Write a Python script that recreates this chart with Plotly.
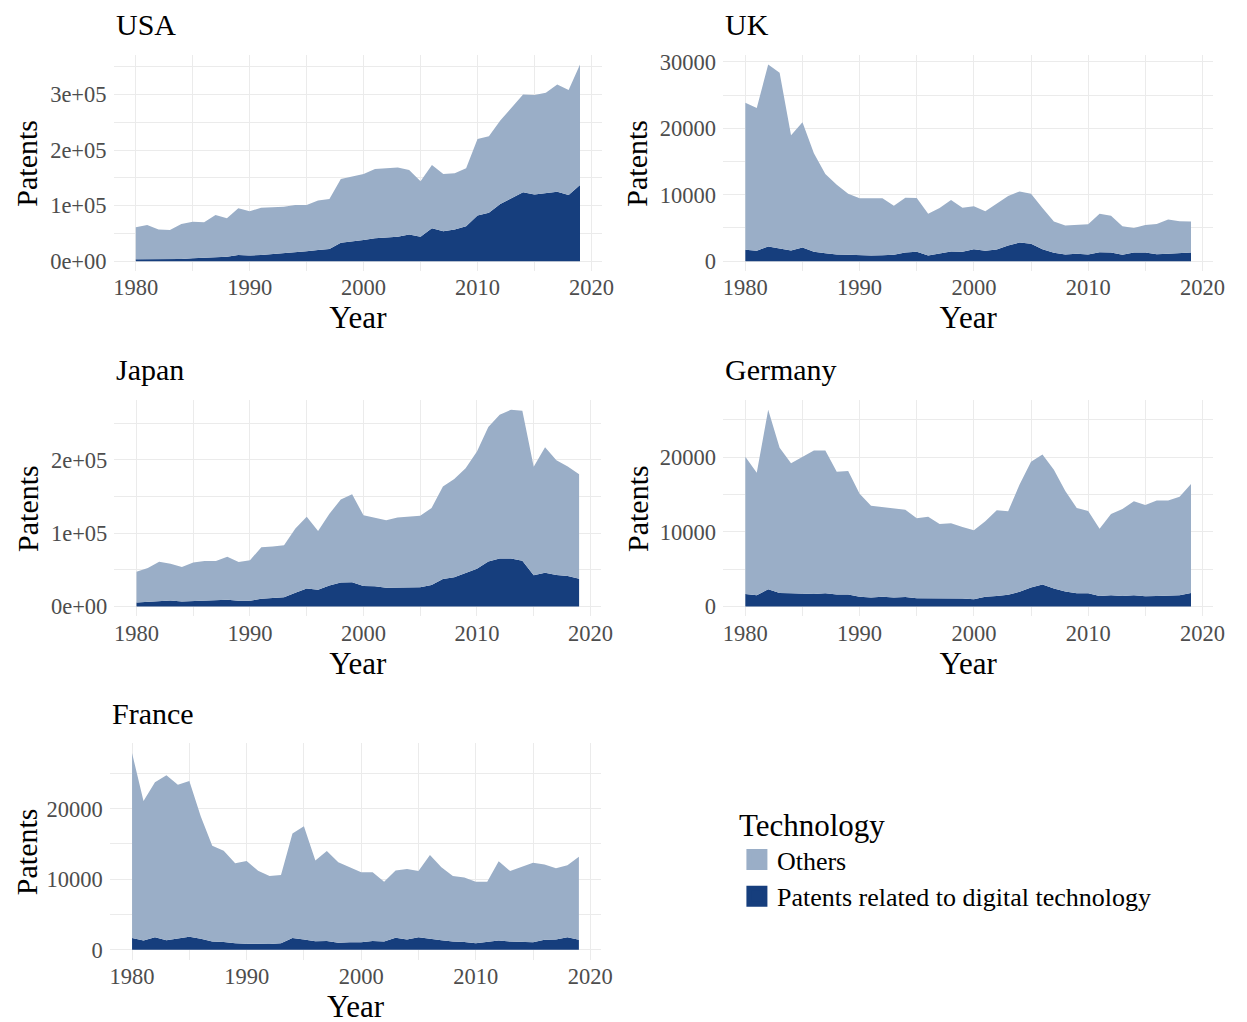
import plotly.graph_objects as go

YEARS = list(range(1980, 2020))

COUNTRIES = ["USA", "UK", "Japan", "Germany", "France"]

USA_DIGITAL = [3600, 3600, 3600, 3600, 4000, 5000, 6000, 8000, 8000, 11000,
               10000, 11000, 12500, 14000, 16500, 18000, 20000, 22000, 33000, 35000,
               38000, 41000, 42000, 44000, 48000, 44000, 59000, 54000, 57000, 63000,
               82000, 87000, 103000, 114000, 124000, 120000, 122000, 125000, 119000, 137000]
USA_OTHERS = [57400, 61400, 53400, 52400, 63000, 66000, 64000, 75000, 69000, 84000,
              80000, 85000, 84500, 84000, 84500, 83000, 89000, 90000, 115000, 118000,
              119000, 125000, 125000, 124500, 116000, 100000, 114000, 103000, 101000, 104000,
              138000, 138000, 150000, 163000, 176000, 179000, 181000, 193000, 189000, 217000]

UK_DIGITAL = [1700, 1550, 2200, 1900, 1600, 2050, 1400, 1200, 1000, 950,
              850, 850, 900, 950, 1300, 1400, 850, 1150, 1450, 1400,
              1800, 1550, 1750, 2350, 2800, 2600, 1800, 1250, 1000, 1100,
              1000, 1350, 1300, 950, 1300, 1300, 1050, 1100, 1150, 1300]
UK_OTHERS = [22150, 21500, 27400, 26450, 17350, 18850, 14850, 11900, 10500, 9200,
             8600, 8600, 8550, 7400, 8250, 8100, 6300, 6850, 7750, 6650,
             6450, 5950, 6950, 7450, 7700, 7550, 6200, 4700, 4350, 4300,
             4550, 5800, 5550, 4300, 3700, 4150, 4550, 5150, 4850, 4650]

JAPAN_DIGITAL = [5400, 6300, 7700, 8100, 6800, 7200, 7700, 7700, 9000, 7700,
                 7700, 10400, 11700, 12600, 18500, 24400, 22600, 28400, 32500, 33000,
                 28000, 27500, 25300, 25700, 26200, 26200, 29300, 37500, 39700, 45100,
                 51500, 61400, 65500, 65500, 62300, 42400, 46000, 42900, 41500, 37900]
JAPAN_OTHERS = [42000, 46100, 53300, 50100, 46900, 52800, 54200, 54200, 58700, 52800,
                55100, 70400, 70000, 70900, 87600, 97900, 80300, 98000, 113300, 120000,
                96200, 93500, 92100, 95700, 96600, 97500, 104800, 125900, 134100, 143200,
                159800, 183300, 195900, 202700, 204500, 148100, 171200, 156600, 149500, 142200]

GERMANY_DIGITAL = [1650, 1500, 2300, 1800, 1750, 1700, 1650, 1750, 1600, 1600,
                   1300, 1200, 1300, 1200, 1250, 1100, 1100, 1000, 1000, 1050,
                   950, 1300, 1400, 1550, 1950, 2550, 2950, 2400, 2000, 1750,
                   1750, 1400, 1500, 1400, 1500, 1350, 1400, 1400, 1500, 1800]
GERMANY_OTHERS = [18400, 16400, 24050, 19450, 17450, 18350, 19250, 19150, 16450, 16550,
                  13800, 12300, 12050, 11900, 11700, 10700, 10900, 10050, 10150, 9600,
                  9250, 10100, 11500, 11200, 14400, 16850, 17400, 15900, 13450, 11450,
                  11050, 9000, 10900, 11650, 12600, 12250, 12800, 12800, 13200, 14600]

FRANCE_DIGITAL = [1650, 1300, 1750, 1350, 1600, 1850, 1550, 1150, 1100, 900,
                  850, 800, 800, 900, 1650, 1450, 1200, 1250, 1000, 1050,
                  1050, 1250, 1150, 1700, 1450, 1750, 1600, 1350, 1150, 1100,
                  900, 1100, 1300, 1150, 1100, 1050, 1400, 1450, 1750, 1400]
FRANCE_OTHERS = [26250, 19800, 22000, 23400, 21800, 22100, 17350, 13600, 12950, 11350,
                 11750, 10400, 9650, 9700, 14850, 16050, 11450, 12750, 11400, 10700,
                 9950, 9750, 8500, 9550, 10000, 9400, 11850, 10350, 9300, 9150,
                 8750, 8550, 11250, 10000, 10600, 11300, 10700, 10100, 10250, 11800]

X_TICKS = [1980, 1990, 2000, 2010, 2020]
X_TICK_TEXT = ["1980", "1990", "2000", "2010", "2020"]

USA_YTICKS = [0, 100000, 200000, 300000]
USA_YTEXT = ["0e+00", "1e+05", "2e+05", "3e+05"]
UK_YTICKS = [0, 10000, 20000, 30000]
UK_YTEXT = ["0", "10000", "20000", "30000"]
JAPAN_YTICKS = [0, 100000, 200000]
JAPAN_YTEXT = ["0e+00", "1e+05", "2e+05"]
GERMANY_YTICKS = [0, 10000, 20000]
GERMANY_YTEXT = ["0", "10000", "20000"]
FRANCE_YTICKS = [0, 10000, 20000]
FRANCE_YTEXT = ["0", "10000", "20000"]

SERIES_NAMES = ["Others", "Patents related to digital technology"]
LEGEND_TITLE = "Technology"
X_TITLE = "Year"
Y_TITLE = "Patents"

DARK = "#163E7D"
LIGHT = "#9AAEC7"
GRID = "#EBEBEB"
TICK_COLOR = "#4D4D4D"
FONT = "Liberation Serif"

W, H = 1247, 1022
OFF = 8  # page body margin of the html page


def px_x(px):
    return (px - OFF) / W


def px_y(py):
    return 1 - (py - OFF) / H


panels = [
    # name, digital, others, yticks, ytext, minor y step, x-left, x-right, y-top, y-bottom, y-title x
    ("USA", USA_DIGITAL, USA_OTHERS, USA_YTICKS, USA_YTEXT, 50000, 114.6, 608, 50, 268, 27),
    ("UK", UK_DIGITAL, UK_OTHERS, UK_YTICKS, UK_YTEXT, 5000, 730, 1225, 50, 268, 643),
    ("Japan", JAPAN_DIGITAL, JAPAN_OTHERS, JAPAN_YTICKS, JAPAN_YTEXT, 50000, 115.4, 607, 398, 616, 27),
    ("Germany", GERMANY_DIGITAL, GERMANY_OTHERS, GERMANY_YTICKS, GERMANY_YTEXT, 5000, 730, 1225, 398, 616, 643),
    ("France", FRANCE_DIGITAL, FRANCE_OTHERS, FRANCE_YTICKS, FRANCE_YTEXT, 5000, 110.7, 607, 744, 962, 27),
]

fig = go.Figure()
layout = {}
annotations = []

xmin, xmax = min(YEARS), max(YEARS)
xpad = 0.05 * (xmax - xmin)

for i, (name, dig, oth, yt, ytx, ystep, xl, xr, yt_px, yb_px, ytitle_x) in enumerate(panels):
    idx = "" if i == 0 else str(i + 1)
    xa, ya = "x" + idx, "y" + idx
    fig.add_trace(go.Scatter(
        x=YEARS, y=dig, xaxis=xa, yaxis=ya, stackgroup="s" + idx,
        mode="lines", line=dict(width=0, color=DARK), fillcolor=DARK,
        name=SERIES_NAMES[1], showlegend=False))
    fig.add_trace(go.Scatter(
        x=YEARS, y=oth, xaxis=xa, yaxis=ya, stackgroup="s" + idx,
        mode="lines", line=dict(width=0, color=LIGHT), fillcolor=LIGHT,
        name=SERIES_NAMES[0], showlegend=False))
    ymax = max(d + o for d, o in zip(dig, oth))
    layout["xaxis" + idx] = dict(
        domain=[px_x(xl), px_x(xr)], anchor=ya,
        range=[xmin - xpad, xmax + xpad],
        tickmode="array", tickvals=X_TICKS, ticktext=X_TICK_TEXT,
        showgrid=True, gridcolor=GRID, gridwidth=1.2, zeroline=False,
        showline=False, ticks="", ticklabelstandoff=1,
        tickfont=dict(family=FONT, size=22.5, color=TICK_COLOR),
        minor=dict(tickmode="linear", tick0=1975, dtick=5, showgrid=True,
                   gridcolor=GRID, gridwidth=0.6),
        title=dict(text=X_TITLE, font=dict(family=FONT, size=31, color="black"), standoff=0),
    )
    layout["yaxis" + idx] = dict(
        domain=[px_y(yb_px), px_y(yt_px)], anchor=xa,
        range=[-0.05 * ymax, 1.05 * ymax],
        tickmode="array", tickvals=yt, ticktext=ytx,
        showgrid=True, gridcolor=GRID, gridwidth=1.2, zeroline=False,
        showline=False, ticks="", ticklabelstandoff=6,
        tickfont=dict(family=FONT, size=22.5, color=TICK_COLOR),
        minor=dict(tickmode="linear", tick0=-ystep, dtick=ystep, showgrid=True,
                   gridcolor=GRID, gridwidth=0.6),
    )
    annotations.append(dict(
        text=name, xref="paper", yref="paper", x=px_x(xl), y=px_y(yt_px),
        xanchor="left", yanchor="middle", yshift=30, showarrow=False,
        font=dict(family=FONT, size=30, color="black")))
    annotations.append(dict(
        text=Y_TITLE, xref="paper", yref="paper", x=px_x(ytitle_x),
        y=px_y((yt_px + yb_px) / 2), xanchor="center", yanchor="middle",
        textangle=-90, showarrow=False,
        font=dict(family=FONT, size=30, color="black")))

# legend entries (square keys)
for nm, col in zip(SERIES_NAMES, [LIGHT, DARK]):
    fig.add_trace(go.Scatter(
        x=[None], y=[None], mode="markers", name=nm,
        marker=dict(symbol="square", size=16, color=col, line=dict(color=col, width=5)),
        showlegend=True, hoverinfo="skip"))

fig.update_layout(
    width=W, height=H,
    margin=dict(l=0, r=0, t=0, b=0),
    paper_bgcolor="white", plot_bgcolor="white",
    font=dict(family=FONT, color="black"),
    annotations=annotations,
    showlegend=True,
    legend=dict(
        x=px_x(744), y=px_y(797), xanchor="left", yanchor="top",
        title=dict(text=LEGEND_TITLE, font=dict(family=FONT, size=31, color="black")),
        font=dict(family=FONT, size=26, color="black"),
        traceorder="normal", itemsizing="trace", itemwidth=30,
        bgcolor="rgba(0,0,0,0)",
    ),
    **layout,
)

fig.write_html("out.html")
